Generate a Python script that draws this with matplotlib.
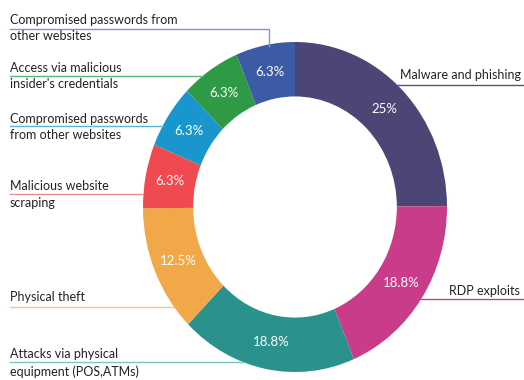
import numpy as np
import matplotlib.pyplot as plt

plt.rcParams['font.family'] = ['Lato', 'DejaVu Sans']

# datos (en sentido horario desde arriba)
categorias = ["Malware and phishing", "RDP exploits",
              "Attacks via physical\nequipment (POS,ATMs)", "Physical theft",
              "Malicious website\nscraping",
              "Compromised passwords\nfrom other websites",
              "Access via malicious\ninsider's credentials",
              "Compromised passwords from\nother websites"]
porcentajes = [25, 18.8, 18.8, 12.5, 6.3, 6.3, 6.3, 6.3]
colores = ["#4b4676", "#c83c8a", "#2a918c", "#f0a848",
           "#ef4a4f", "#1a96cf", "#2e9a46", "#3b5ba5"]
colores_linea = ["#55556a", "#c8408a", "#7cc4c0", "#f0c88a",
                 "#f08a9a", "#5ab4d6", "#5cb37a", "#8a93c4"]

W, H = 524, 380
fig = plt.figure(figsize=(W / 100, H / 100), dpi=100)

# anillo (en píxeles: centro 295,207; radios 152 x 165)
cx, cy, rx, ry = 295, 207, 152, 165
ax = fig.add_axes([(cx - rx) / W, (H - cy - ry) / H, 2 * rx / W, 2 * ry / H])
ancho = 0.33
wedges, _ = ax.pie(porcentajes, colors=colores, startangle=90, counterclock=False,
                   radius=1, wedgeprops=dict(width=ancho, linewidth=0))
ax.set_xlim(-1, 1)
ax.set_ylim(-1, 1)
ax.set_aspect('auto')
ax.axis('off')

r_txt = 1 - ancho / 2
for w, v in zip(wedges, porcentajes):
    ang = np.deg2rad((w.theta1 + w.theta2) / 2)
    ax.text(r_txt * np.cos(ang), r_txt * np.sin(ang), f"{v:g}%",
            ha='center', va='center', color='white', fontsize=9.5)

# capa de etiquetas en coordenadas de píxel
ov = fig.add_axes([0, 0, 1, 1])
ov.set_xlim(0, W)
ov.set_ylim(H, 0)
ov.axis('off')

def borde(y, lado):
    d = (y - cy) / ry
    return cx + lado * rx * np.sqrt(max(0.0, 1 - d * d))

# (y de la línea, y del texto)
izq = {7: (29, 28), 6: (76, 76), 5: (126, 127), 4: (194, 194.5), 3: (307, 297), 2: (362, 363)}
for i, (yl, yt) in izq.items():
    ov.text(10, yt, categorias[i], ha='left', va='center', fontsize=9,
            color='#222222', linespacing=1.45)
    if i == 7:
        xv = 269
        ov.plot([10, xv, xv], [yl, yl, cy - ry * np.sqrt(1 - ((xv - cx) / rx) ** 2) + 2],
                color=colores_linea[i], lw=1)
    else:
        ov.plot([10, borde(yl, -1)], [yl, yl], color=colores_linea[i], lw=1)

# derecha
ov.text(521, 75, categorias[0], ha='right', va='center', fontsize=9, color='#222222')
ov.plot([borde(85, 1), W], [85, 85], color=colores_linea[0], lw=1)
ov.text(520, 291, categorias[1], ha='right', va='center', fontsize=9, color='#222222')
ov.plot([borde(299, 1), W], [299, 299], color=colores_linea[1], lw=1)

fig.savefig("out.png", dpi=100)
